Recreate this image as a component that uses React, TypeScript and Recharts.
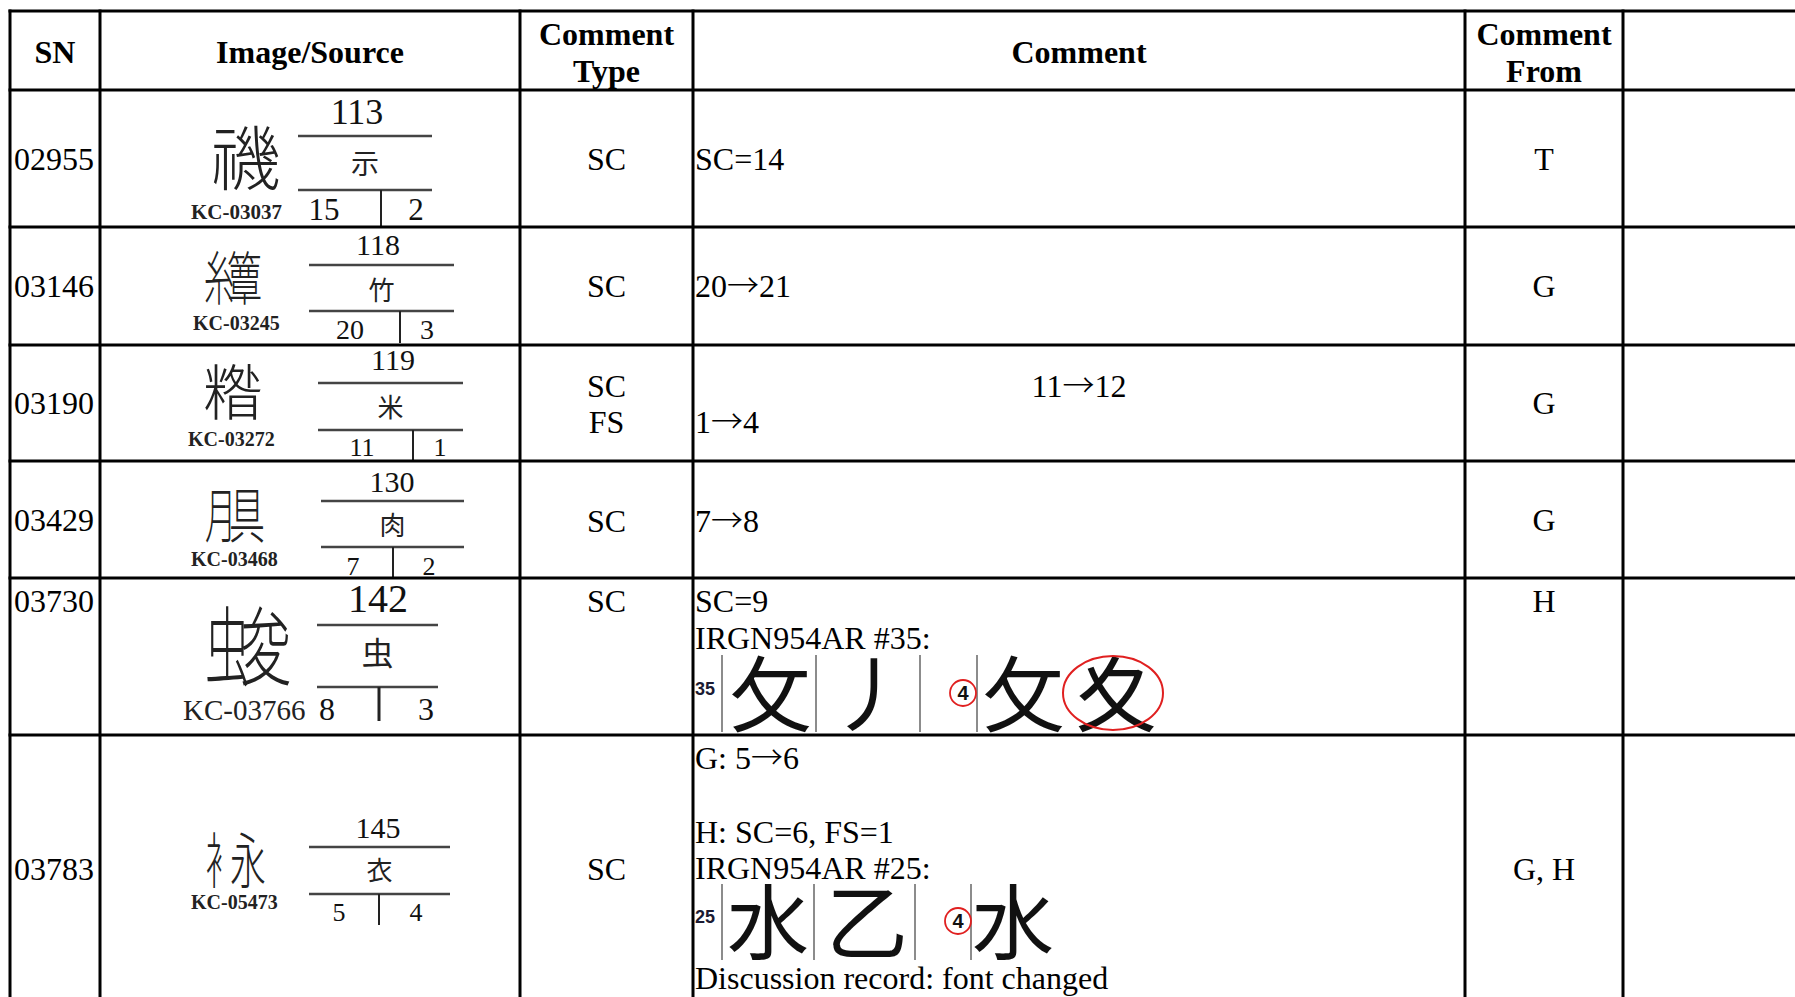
import React from 'react';
import { Surface, Layer } from 'recharts';

// table content
const headers = [['SN'], ['Image/Source'], ['Comment', 'Type'], ['Comment'], ['Comment', 'From'], []];
const snList = ['02955', '03146', '03190', '03429', '03730', '03783'];
const sourceIds = ['KC-03037', 'KC-03245', 'KC-03272', 'KC-03468', 'KC-03766', 'KC-05473'];
const radicalNums = ['113', '118', '119', '130', '142', '145'];
const radicalChars = ['示', '竹', '米', '肉', '虫', '衣'];
const strokeTotals = ['15', '20', '11', '7', '8', '5'];
const strokeFirsts = ['2', '3', '1', '2', '3', '4'];
const charParts = [['禨'], ['糸', '簟'], ['糌'], ['月', '具'], ['虫', '夋'], ['衤', '永']];
const commentTypes = [['SC'], ['SC'], ['SC', 'FS'], ['SC'], ['SC'], ['SC']];
const commentFrom = ['T', 'G', 'G', 'G', 'H', 'G, H'];
const comments = [
  ['SC=14'],
  ['20→21'],
  ['11→12', '1→4'],
  ['7→8'],
  ['SC=9', 'IRGN954AR #35:', '#glyphs'],
  ['G: 5→6', '', 'H: SC=6, FS=1', 'IRGN954AR #25:', '#glyphs', 'Discussion record: font changed'],
];
const glyphNums = ['35', '25'];
const glyphCells = [['攵', '丿'], ['水', '乙']];
const glyphAfter = [['攵', '夊'], ['水']];

// layout
const W = 1795;
const H = 997;
const colX = [10, 100, 520, 693, 1465, 1623];
const rowY = [11, 90, 227, 345, 461, 578, 735];
const SERIF = '"Liberation Serif", "Times New Roman", serif';
const SANS = '"Liberation Sans", Arial, sans-serif';
const CJK = '"Noto Sans CJK JP", "Noto Sans CJK SC", sans-serif';

const rowMid = [159, 286, 403, 520, 601, 869];
const typeY = [[159], [286], [386, 422], [521], [601], [869]];
const commentY = [[159], [286], [386, 422], [521], [601, 638, 694], [758, 795, 832, 868, 922, 978]];
const commentCentered = [[], [], [0], [], [], []];

const boxLayout = [
  { num: [357, 112, 36], lx: [298, 432], l1: 136, rad: [163, 28], l2: 190, sub: [324, 416, 210, 31], div: [381, 190, 227, 2], big: [246, 158, 70], kc: [191, 212, 21, 700] },
  { num: [378, 245, 30], lx: [309, 454], l1: 265, rad: [290, 26], l2: 311, sub: [350, 427, 330, 28], div: [400, 311, 343, 2], big: [233, 278, 58], kc: [193, 323, 20, 700] },
  { num: [393, 360, 30], lx: [318, 463], l1: 383, rad: [407, 26], l2: 430, sub: [362, 440, 447, 26], div: [413, 430, 460, 2], big: [233, 392, 60], kc: [188, 439, 20, 700] },
  { num: [392, 482, 30], lx: [321, 464], l1: 501, rad: [525, 26], l2: 547, sub: [353, 429, 566, 26], div: [393, 547, 578, 2], big: [235, 515, 60], kc: [191, 559, 20, 700] },
  { num: [378, 599, 40], lx: [317, 438], l1: 625, rad: [653, 32], l2: 687, sub: [327, 426, 709, 32], div: [379, 687, 721, 3], big: [248, 646, 86], kc: [183, 710, 29, 400] },
  { num: [378, 828, 30], lx: [309, 450], l1: 847, rad: [870, 26], l2: 894, sub: [339, 416, 912, 26], div: [379, 894, 925, 2], big: [236, 860, 60], kc: [191, 902, 20, 700] },
];

const glyphLayout = [
  { cy: 694, lines: [722, 816, 920, 977], top: 655, bot: 732, cells: [771, 870], circle: 963, after: [1024, 1116], ring: [1113, 693, 50, 37] },
  { cy: 922, lines: [722, 814, 915, 971], top: 884, bot: 960, cells: [768, 867], circle: 958, after: [1013], ring: null },
];

type TxtProps = {
  x: number;
  y: number;
  s: number;
  children: React.ReactNode;
  anchor?: 'start' | 'middle' | 'end';
  weight?: number;
  family?: string;
  fill?: string;
  shift?: number;
};

// arrows come from the CJK font, where they are full width like in the source document
const withArrows = (t: React.ReactNode) => {
  if (typeof t !== 'string' || !t.includes('→')) return t;
  return t.split('→').map((part, i) => (
    <React.Fragment key={i}>
      {i > 0 && <tspan fontFamily={CJK} fontWeight={300}>→</tspan>}
      {part}
    </React.Fragment>
  ));
};

// y is the visual centre of the line
const Txt = ({ x, y, s, children, anchor = 'start', weight = 400, family = SERIF, fill = '#000', shift = 0.33 }: TxtProps) => (
  <text x={x} y={y + s * shift} fontSize={s} textAnchor={anchor} fontWeight={weight} fontFamily={family} fill={fill}>
    {withArrows(children)}
  </text>
);

const Han = ({ parts, cx, cy, s }: { parts: string[]; cx: number; cy: number; s: number }) => {
  if (parts.length === 1) {
    return <Txt x={cx} y={cy} s={s} anchor="middle" family={CJK} weight={300} shift={0.38} fill="#222">{parts[0]}</Txt>;
  }
  // squeeze two components side by side
  return (
    <g fill="#222" fontFamily={CJK} fontWeight={300} fontSize={s} textAnchor="middle">
      <text transform={`translate(${cx - s * 0.24},${cy + s * 0.38}) scale(0.52,1)`}>{parts[0]}</text>
      <text transform={`translate(${cx + s * 0.2},${cy + s * 0.38}) scale(0.6,1)`}>{parts[1]}</text>
    </g>
  );
};

const SourceCell = ({ i }: { i: number }) => {
  const L = boxLayout[i];
  const mid = (L.lx[0] + L.lx[1]) / 2;
  return (
    <Layer>
      <Han parts={charParts[i]} cx={L.big[0]} cy={L.big[1]} s={L.big[2]} />
      <Txt x={L.kc[0]} y={L.kc[1]} s={L.kc[2]} weight={L.kc[3]} fill="#222">{sourceIds[i]}</Txt>
      <Txt x={L.num[0]} y={L.num[1]} s={L.num[2]} anchor="middle" fill="#111">{radicalNums[i]}</Txt>
      <line x1={L.lx[0]} x2={L.lx[1]} y1={L.l1} y2={L.l1} stroke="#444" strokeWidth={2.5} />
      <Txt x={mid} y={L.rad[0]} s={L.rad[1]} anchor="middle" family={CJK} shift={0.38} fill="#222">{radicalChars[i]}</Txt>
      <line x1={L.lx[0]} x2={L.lx[1]} y1={L.l2} y2={L.l2} stroke="#444" strokeWidth={2.5} />
      <line x1={L.div[0]} x2={L.div[0]} y1={L.div[1]} y2={L.div[2]} stroke="#222" strokeWidth={L.div[3]} />
      <Txt x={L.sub[0]} y={L.sub[2]} s={L.sub[3]} anchor="middle" fill="#111">{strokeTotals[i]}</Txt>
      <Txt x={L.sub[1]} y={L.sub[2]} s={L.sub[3]} anchor="middle" fill="#111">{strokeFirsts[i]}</Txt>
    </Layer>
  );
};

const GlyphRow = ({ k }: { k: number }) => {
  const G = glyphLayout[k];
  return (
    <Layer>
      <Txt x={695} y={G.cy - 5} s={18} weight={700} family={SANS} fill="#1b1b33">{glyphNums[k]}</Txt>
      {G.lines.map((x) => (
        <line key={x} x1={x} x2={x} y1={G.top} y2={G.bot} stroke="#666" strokeWidth={1.5} />
      ))}
      {glyphCells[k].map((c, j) => (
        <Txt key={j} x={G.cells[j]} y={G.cy} s={82} anchor="middle" family={CJK} shift={0.38} fill="#111">{c}</Txt>
      ))}
      <circle cx={G.circle} cy={G.cy - 1} r={13} fill="none" stroke="#e02020" strokeWidth={1.8} />
      <Txt x={G.circle} y={G.cy - 1} s={20} anchor="middle" weight={700} family={SANS} fill="#111" shift={0.36}>4</Txt>
      {glyphAfter[k].map((c, j) => (
        <Txt key={j} x={G.after[j]} y={G.cy} s={82} anchor="middle" family={CJK} shift={0.38} fill="#111">{c}</Txt>
      ))}
      {G.ring && (
        <ellipse cx={G.ring[0]} cy={G.ring[1]} rx={G.ring[2]} ry={G.ring[3]} fill="none" stroke="#e02020" strokeWidth={2} />
      )}
    </Layer>
  );
};

export default function App() {
  const colMid = colX.map((x, i) => (x + (colX[i + 1] ?? W)) / 2);
  return (
    <div style={{ position: 'absolute', left: 0, top: 0, width: W, height: H, background: '#fff' }}>
      <Surface width={W} height={H}>
        <rect x={0} y={0} width={W} height={H} fill="#fff" />
        {/* header */}
        <Layer>
          {headers.map((lines, c) =>
            lines.map((t, j) => (
              <Txt
                key={`${c}-${j}`}
                x={colMid[c]}
                y={lines.length === 1 ? 52 : 34 + j * 37}
                s={32}
                weight={700}
                anchor="middle"
              >
                {t}
              </Txt>
            )),
          )}
        </Layer>
        {/* body */}
        {snList.map((sn, i) => (
          <Layer key={sn}>
            <Txt x={14} y={rowMid[i]} s={32}>{sn}</Txt>
            <SourceCell i={i} />
            {commentTypes[i].map((t, j) => (
              <Txt key={j} x={colMid[2]} y={typeY[i][j]} s={32} anchor="middle">{t}</Txt>
            ))}
            {comments[i].map((t, j) => {
              if (t === '#glyphs') return <GlyphRow key={j} k={i === 4 ? 0 : 1} />;
              const centered = commentCentered[i].includes(j);
              return (
                <Txt key={j} x={centered ? colMid[3] : 695} y={commentY[i][j]} s={32} anchor={centered ? 'middle' : 'start'}>
                  {t}
                </Txt>
              );
            })}
            <Txt x={colMid[4]} y={rowMid[i]} s={32} anchor="middle">{commentFrom[i]}</Txt>
          </Layer>
        ))}
        {/* grid */}
        <Layer>
          {rowY.map((y) => (
            <line key={`h${y}`} x1={colX[0] - 1.5} x2={W} y1={y} y2={y} stroke="#000" strokeWidth={3} />
          ))}
          {colX.map((x) => (
            <line key={`v${x}`} x1={x} x2={x} y1={rowY[0] - 1.5} y2={H} stroke="#000" strokeWidth={3} />
          ))}
        </Layer>
      </Surface>
    </div>
  );
}
